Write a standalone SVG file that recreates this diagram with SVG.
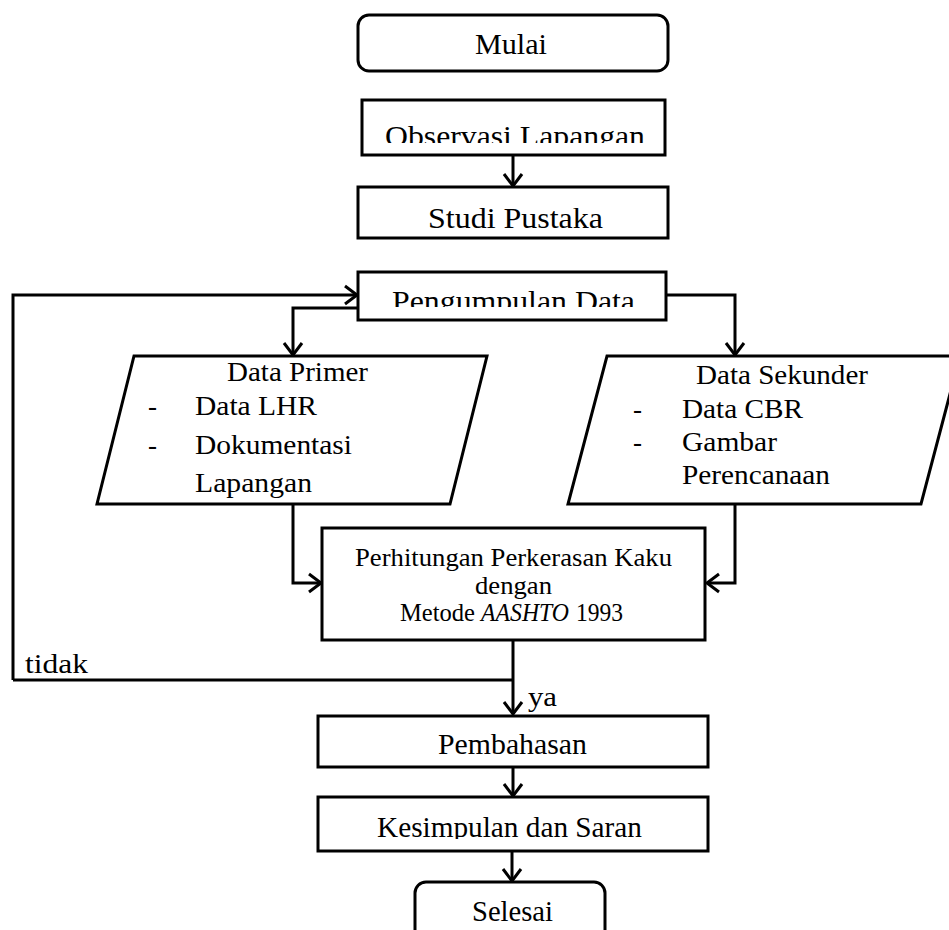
<svg xmlns="http://www.w3.org/2000/svg" width="949" height="930" viewBox="0 0 949 930">
<style>
.b{fill:#fff;stroke:#000;stroke-width:3}
.c{fill:none;stroke:#000;stroke-width:3}
text{font-family:"Liberation Serif","Times New Roman",serif;fill:#000}
.t{font-size:30px}
.p{font-size:27px}
.m{font-size:25px}
</style>
<defs>
<marker id="ah" viewBox="-16 -12 20 24" markerWidth="20" markerHeight="24" refX="0" refY="0" orient="auto" markerUnits="userSpaceOnUse">
<path d="M-12,-9 L0,0 L-12,9" fill="none" stroke="#000" stroke-width="3"/>
</marker>
<clipPath id="c1"><rect x="360" y="100" width="310" height="43"/></clipPath>
<clipPath id="c2"><rect x="360" y="272" width="310" height="35"/></clipPath>
<clipPath id="c3"><rect x="320" y="797" width="390" height="42"/></clipPath>
</defs>

<g id="connectors">
<path class="c" d="M513,155 L513,186" marker-end="url(#ah)"/>
<path class="c" d="M13,680 L13,295 L357,295" marker-end="url(#ah)"/>
<path class="c" d="M358,308 L293,308 L293,355" marker-end="url(#ah)"/>
<path class="c" d="M666,295 L735,295 L735,355" marker-end="url(#ah)"/>
<path class="c" d="M293,504 L293,583 L321,583" marker-end="url(#ah)"/>
<path class="c" d="M735,504 L735,583 L707,583" marker-end="url(#ah)"/>
<path class="c" d="M13,680 L513,680"/>
<path class="c" d="M513,640 L513,714" marker-end="url(#ah)"/>
<path class="c" d="M513,767 L513,796" marker-end="url(#ah)"/>
<path class="c" d="M512,851 L512,881" marker-end="url(#ah)"/>
<text class="p" x="25" y="673" textLength="63" lengthAdjust="spacingAndGlyphs">tidak</text>
<text class="p" x="528" y="706" textLength="29" lengthAdjust="spacingAndGlyphs">ya</text>
</g>

<g id="mulai">
<rect class="b" x="358" y="15" width="310" height="56" rx="11"/>
<text class="t" x="475" y="54" textLength="72" lengthAdjust="spacingAndGlyphs">Mulai</text>
</g>

<g id="observasi">
<rect class="b" x="362" y="100" width="303" height="55"/>
<text class="t" x="385" y="146" textLength="260" lengthAdjust="spacingAndGlyphs" clip-path="url(#c1)">Observasi Lapangan</text>
</g>

<g id="studi">
<rect class="b" x="358" y="187" width="310" height="51"/>
<text class="t" x="428" y="228" textLength="175" lengthAdjust="spacingAndGlyphs">Studi Pustaka</text>
</g>

<g id="pengumpulan">
<rect class="b" x="358" y="272" width="308" height="48"/>
<text class="t" x="392" y="311" textLength="243" lengthAdjust="spacingAndGlyphs" clip-path="url(#c2)">Pengumpulan Data</text>
</g>

<g id="primer">
<polygon class="b" points="134,356 487,356 450,504 97,504"/>
<text class="p" x="227" y="381" textLength="141" lengthAdjust="spacingAndGlyphs">Data Primer</text>
<text class="p" x="148" y="415">-</text>
<text class="p" x="195" y="415" textLength="122" lengthAdjust="spacingAndGlyphs">Data LHR</text>
<text class="p" x="148" y="454">-</text>
<text class="p" x="195" y="454" textLength="157" lengthAdjust="spacingAndGlyphs">Dokumentasi</text>
<text class="p" x="195" y="492" textLength="117" lengthAdjust="spacingAndGlyphs">Lapangan</text>
</g>

<g id="sekunder">
<polygon class="b" points="607,356 960,356 921,504 568,504"/>
<text class="p" x="696" y="384" textLength="172" lengthAdjust="spacingAndGlyphs">Data Sekunder</text>
<text class="p" x="633" y="418">-</text>
<text class="p" x="682" y="418" textLength="121" lengthAdjust="spacingAndGlyphs">Data CBR</text>
<text class="p" x="633" y="451">-</text>
<text class="p" x="682" y="451" textLength="95" lengthAdjust="spacingAndGlyphs">Gambar</text>
<text class="p" x="682" y="484" textLength="148" lengthAdjust="spacingAndGlyphs">Perencanaan</text>
</g>

<g id="perhitungan">
<rect class="b" x="322" y="528" width="383" height="112"/>
<text class="m" x="355" y="566" textLength="317" lengthAdjust="spacingAndGlyphs">Perhitungan Perkerasan Kaku</text>
<text class="m" x="475" y="594" textLength="77" lengthAdjust="spacingAndGlyphs">dengan</text>
<text class="m" x="400" y="621" textLength="75" lengthAdjust="spacingAndGlyphs">Metode</text>
<text class="m" x="481" y="621" textLength="88" lengthAdjust="spacingAndGlyphs" font-style="italic">AASHTO</text>
<text class="m" x="576" y="621" textLength="47" lengthAdjust="spacingAndGlyphs">1993</text>
</g>

<g id="pembahasan">
<rect class="b" x="318" y="716" width="390" height="51"/>
<text class="t" x="438" y="754" textLength="149" lengthAdjust="spacingAndGlyphs">Pembahasan</text>
</g>

<g id="kesimpulan">
<rect class="b" x="318" y="797" width="390" height="54"/>
<text class="t" x="377" y="837" textLength="265" lengthAdjust="spacingAndGlyphs" clip-path="url(#c3)">Kesimpulan dan Saran</text>
</g>

<g id="selesai">
<rect class="b" x="415" y="882" width="190" height="70" rx="11"/>
<text class="t" x="472" y="921" textLength="81" lengthAdjust="spacingAndGlyphs">Selesai</text>
</g>
</svg>
